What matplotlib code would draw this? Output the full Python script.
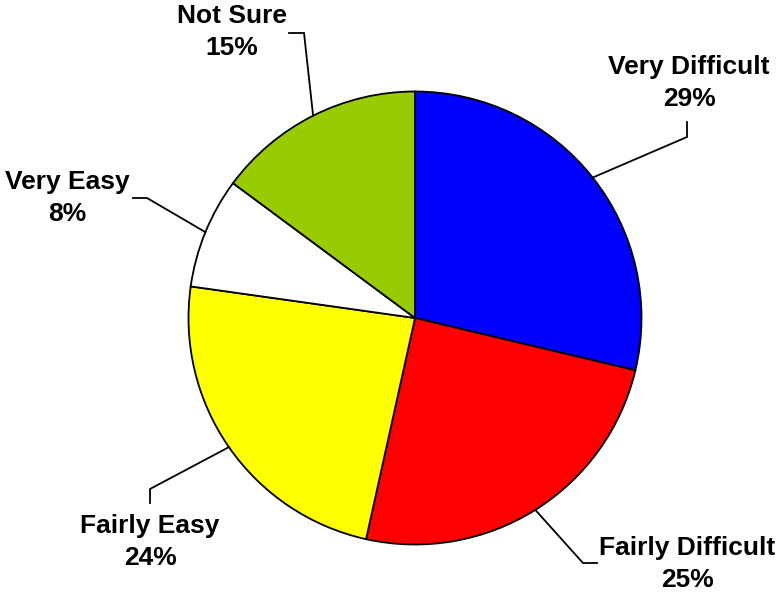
import matplotlib
matplotlib.use("Agg")
import matplotlib.pyplot as plt
import numpy as np

labels = ['Very Difficult', 'Fairly Difficult', 'Fairly Easy', 'Very Easy', 'Not Sure']
values = [29, 25, 24, 8, 15]
colors = ['#0000FF', '#FF0000', '#FFFF00', '#FFFFFF', '#99CC00']

# label layout in pixel coords of the 778x592 image: text centre, elbow, line end
text_pos = [(689, 83), (687, 564), (150, 542), (67, 198), (232, 32)]
elbow_pos = [(687, 137), (583, 563), (150, 489), (147, 198), (304, 33)]
end_pos = [(687, 122), (597, 563), (150, 503), (133, 198), (289, 33)]

W, H = 778, 592
cx, cy, R = 415, 318, 226.5

def to_data(p):
    return ((p[0] - cx) / R, (cy - p[1]) / R)

plt.rcParams['font.family'] = ['Liberation Sans', 'DejaVu Sans']

fig = plt.figure(figsize=(W / 100, H / 100), dpi=100)
ax = fig.add_axes([0, 0, 1, 1])

wedges, _ = ax.pie(values, colors=colors, startangle=90, counterclock=False,
                   radius=1, center=(0, 0), frame=True,
                   wedgeprops=dict(edgecolor='black', linewidth=1.3))
ax.set_xlim(-cx / R, (W - cx) / R)
ax.set_ylim(-(H - cy) / R, cy / R)
ax.set_aspect('equal')
ax.axis('off')

for w, lab, v, tp, ep, np_ in zip(wedges, labels, values, text_pos, elbow_pos, end_pos):
    mid = np.deg2rad((w.theta1 + w.theta2) / 2)
    edge = (np.cos(mid), np.sin(mid))
    e = to_data(ep)
    n = to_data(np_)
    ax.plot([edge[0], e[0], n[0]], [edge[1], e[1], n[1]], color='black', lw=1.3,
            solid_joinstyle='miter')
    t = to_data(tp)
    ax.text(t[0], t[1], f'{lab}\n{v}%', ha='center', va='center',
            fontsize=19, fontweight='bold', linespacing=1.4)

fig.savefig('out.png', dpi=100)
